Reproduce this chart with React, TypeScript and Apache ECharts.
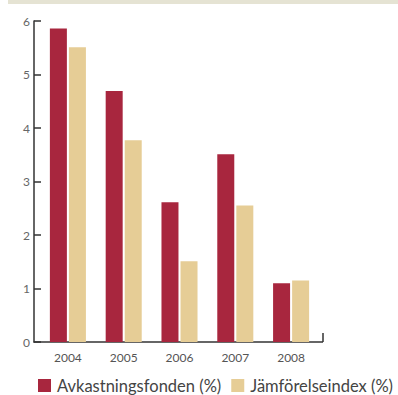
import React, { useEffect, useRef } from "react";
import * as echarts from "echarts";

const years = ["2004", "2005", "2006", "2007", "2008"];
const fundReturns = [5.86, 4.69, 2.61, 3.51, 1.1];
const indexReturns = [5.51, 3.77, 1.51, 2.55, 1.15];
const yTicks = { min: 0, max: 6, interval: 1 };

const RED = "#a8263e";
const BEIGE = "#e6cd96";
const FONT = "Lato, 'Open Sans', sans-serif";

export default function App() {
  const ref = useRef<HTMLDivElement>(null);

  useEffect(() => {
    if (!ref.current) return;
    const chart = echarts.init(ref.current, undefined, { renderer: "svg" });
    const gridTop = 21;
    const gridBottom = 53;
    const zeroY = 395 - gridBottom;
    chart.setOption({
      animation: false,
      textStyle: { fontFamily: FONT },
      grid: { left: 40, right: 79, top: gridTop, bottom: gridBottom },
      legend: {
        left: 38,
        top: 377,
        padding: 0,
        itemWidth: 13,
        itemHeight: 13,
        itemGap: 10,
        icon: "rect",
        textStyle: {
          fontSize: 16.5,
          lineHeight: 14,
          color: "#444",
          fontFamily: FONT,
          padding: [0, 0, 0, 1],
        },
        data: ["Avkastningsfonden (%)", "Jämförelseindex (%)"],
      },
      xAxis: {
        type: "category",
        data: years,
        axisLine: { show: false },
        axisTick: { show: false },
        axisLabel: { color: "#555", fontSize: 12, margin: 9, fontFamily: FONT },
      },
      yAxis: {
        type: "value",
        ...yTicks,
        offset: 6,
        axisLine: { show: true, lineStyle: { color: "#333", width: 1.5 } },
        axisTick: { show: true, inside: true, length: 7, lineStyle: { color: "#333", width: 1.5 } },
        axisLabel: {
          color: "#666",
          fontSize: 12,
          margin: 4,
          fontFamily: FONT,
          padding: [0, 0, 7, 0],
        },
        splitLine: { show: false },
      },
      series: [
        {
          name: "Avkastningsfonden (%)",
          type: "bar",
          data: fundReturns,
          barWidth: 17,
          barGap: "12%",
          itemStyle: { color: RED },
        },
        {
          name: "Jämförelseindex (%)",
          type: "bar",
          data: indexReturns,
          barWidth: 17,
          itemStyle: { color: BEIGE },
        },
      ],
      graphic: [
        {
          type: "rect",
          shape: { x: 8, y: 0, width: 390, height: 4 },
          style: { fill: "#e5e3d3" },
          silent: true,
        },
        {
          type: "line",
          shape: { x1: 33.5, y1: zeroY, x2: 323, y2: zeroY },
          style: { stroke: "#333", lineWidth: 1.5 },
          silent: true,
        },
        {
          type: "line",
          shape: { x1: 323, y1: zeroY - 9, x2: 323, y2: zeroY },
          style: { stroke: "#333", lineWidth: 1.5 },
          silent: true,
        },
      ],
    });
    return () => chart.dispose();
  }, []);

  return <div ref={ref} style={{ width: 398, height: 395, position: "absolute", left: 0, top: 0 }} />;
}
